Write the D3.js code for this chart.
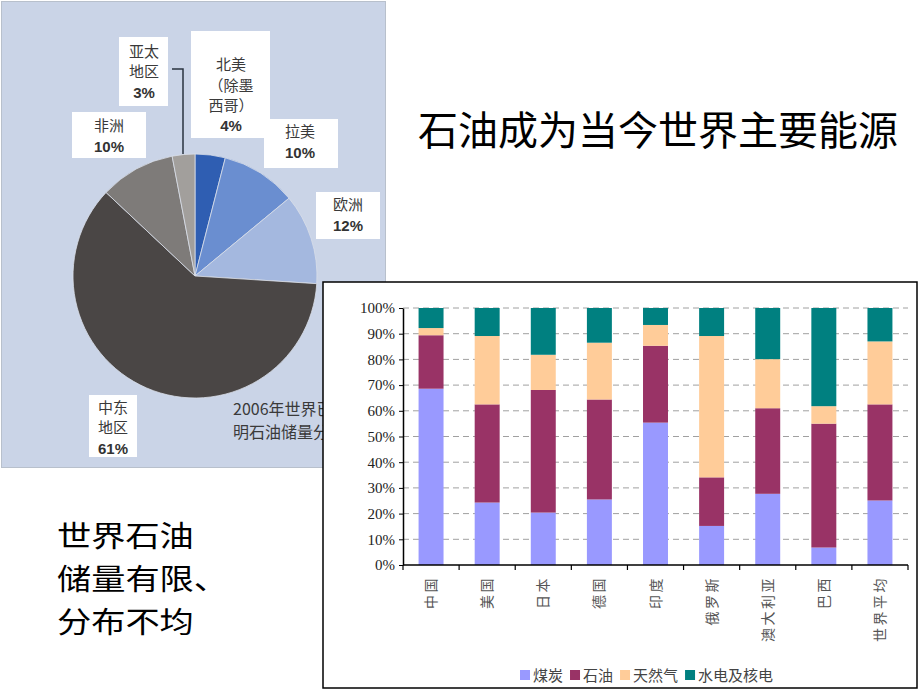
<!DOCTYPE html>
<html><head><meta charset="utf-8">
<script src="https://cdn.jsdelivr.net/npm/d3@7/dist/d3.min.js"></script>
<style>html,body{margin:0;padding:0;background:#fff;}svg{display:block;}</style>
</head><body>
<svg id="c" width="920" height="690"></svg>
<script>
// ---- Pie data ----
const regions = ["北美（除墨西哥）", "拉美", "欧洲", "中东地区", "非洲", "亚太地区"];
const shares = [4, 10, 12, 61, 10, 3];
const regionLabelLines = [["北美", "（除墨", "西哥）"], ["拉美"], ["欧洲"], ["中东", "地区"], ["非洲"], ["亚太", "地区"]];
const pieColors = ["#2f5eb2", "#6a8ed0", "#a4b8df", "#4a4645", "#7e7b79", "#a29f9c"];

// ---- Stacked bar data ----
const countries = ["中国", "美国", "日本", "德国", "印度", "俄罗斯", "澳大利亚", "巴西", "世界平均"];
const energyTypes = ["煤炭", "石油", "天然气", "水电及核电"];
const coal  = [68.6, 24.3, 20.4, 25.5, 55.4, 15.2, 27.7, 6.8, 25.1];
const oil   = [20.8, 38.2, 47.7, 38.9, 29.9, 18.9, 33.3, 48.2, 37.4];
const gas   = [2.8, 26.6, 13.7, 22.1, 8.1, 55.0, 19.1, 6.8, 24.5];
const hydro = [7.8, 10.9, 18.2, 13.5, 6.6, 10.9, 19.9, 38.2, 13.0];
const yTicks = [0, 10, 20, 30, 40, 50, 60, 70, 80, 90, 100];
const barColors = ["#9999ff", "#993366", "#ffcc99", "#008080"];

const svg = d3.select("#c");
svg.append("rect").attr("width", 920).attr("height", 690).attr("fill", "#fff");

// ================= Left panel: pie =================
svg.append("rect").attr("x", 1.5).attr("y", 1.5).attr("width", 384).attr("height", 466)
  .attr("fill", "#cad4e7").attr("stroke", "#b8c0cc").attr("stroke-width", 1);

const cx = 195, cy = 276, R = 122;
const pie = d3.pie().sort(null).value(d => d)(shares);
const arc = d3.arc().innerRadius(0).outerRadius(R);
const pg = svg.append("g").attr("transform", `translate(${cx},${cy})`);
pg.selectAll("path").data(pie).join("path")
  .attr("d", arc).attr("fill", (d, i) => pieColors[i])
  .attr("stroke", "#d9dee8").attr("stroke-width", 0.8);

// label boxes (layout)
const boxes = [
  {x: 191, y: 31, w: 79, h: 107, cx: 231, ys: [70, 91, 111], py: 131},
  {x: 264, y: 119, w: 74, h: 49, cx: 300, ys: [137], py: 158},
  {x: 316, y: 192, w: 64, h: 47, cx: 348, ys: [210], py: 231},
  {x: 89, y: 395, w: 48, h: 62, cx: 113, ys: [413, 433], py: 454},
  {x: 72, y: 112, w: 74, h: 46, cx: 109, ys: [131], py: 152},
  {x: 119, y: 37, w: 49, h: 69, cx: 144, ys: [57, 77], py: 98}
];
// leader line for 亚太
svg.append("path").attr("d", `M172,69 H183 V${cy - R}`).attr("fill", "none")
  .attr("stroke", "#2a3340").attr("stroke-width", 1.5);
boxes.forEach((b, i) => {
  svg.append("rect").attr("x", b.x).attr("y", b.y).attr("width", b.w).attr("height", b.h).attr("fill", "#fff");
  regionLabelLines[i].forEach((t, j) => {
    svg.append("text").attr("x", b.cx).attr("y", b.ys[j]).attr("text-anchor", "middle")
      .attr("font-family", "'Noto Sans CJK SC', sans-serif").attr("font-size", 15).attr("fill", "#3a3a3a").text(t);
  });
  svg.append("text").attr("x", b.cx).attr("y", b.py).attr("text-anchor", "middle")
    .attr("font-family", "'Liberation Sans', Arial, sans-serif").attr("font-weight", "bold")
    .attr("font-size", 15).attr("fill", "#333").text(shares[i] + "%");
});
// caption (partly hidden by chart panel)
svg.append("text").attr("x", 233).attr("y", 415).attr("font-family", "'Noto Sans CJK SC', sans-serif")
  .attr("font-size", 16).attr("fill", "#3a3a3a").text("2006年世界已探");
svg.append("text").attr("x", 233).attr("y", 438).attr("font-family", "'Noto Sans CJK SC', sans-serif")
  .attr("font-size", 16).attr("fill", "#3a3a3a").text("明石油储量分布");

// ================= Titles =================
svg.append("text").attr("x", 418).attr("y", 145).attr("font-family", "'Noto Sans CJK SC', sans-serif")
  .attr("font-size", 40).attr("fill", "#000").text("石油成为当今世界主要能源");
["世界石油", "储量有限、", "分布不均"].forEach((t, i) => {
  svg.append("text").attr("transform", `translate(57,${547 + i * 43}) scale(1.18,1)`)
    .attr("font-family", "'Noto Sans CJK SC', sans-serif")
    .attr("font-size", 29).attr("fill", "#000").text(t);
});

// ================= Right panel: stacked bars =================
svg.append("rect").attr("x", 323).attr("y", 282).attr("width", 594).attr("height", 406)
  .attr("fill", "#fff").attr("stroke", "#000").attr("stroke-width", 1.5);

const x0 = 403, x1 = 908, yTop = 308, yBot = 565;
const x = d3.scaleBand().domain(countries).range([x0, x1]).paddingInner(0.555).paddingOuter(0.2775);
const y = d3.scaleLinear().domain([0, 100]).range([yBot, yTop]);

// gridlines
svg.append("g").selectAll("line").data(yTicks.filter(v => v > 0)).join("line")
  .attr("x1", x0).attr("x2", x1).attr("y1", d => y(d)).attr("y2", d => y(d))
  .attr("stroke", "#a0a0a0").attr("stroke-width", 1).attr("stroke-dasharray", "6,4");

// stacked bars
const rows = countries.map((c, i) => ({country: c, "煤炭": coal[i], "石油": oil[i], "天然气": gas[i], "水电及核电": hydro[i]}));
const stack = d3.stack().keys(energyTypes)(rows);
svg.append("g").selectAll("g").data(stack).join("g")
  .attr("fill", (d, i) => barColors[i])
  .selectAll("rect").data(d => d).join("rect")
  .attr("x", d => x(d.data.country)).attr("width", x.bandwidth())
  .attr("y", d => y(d[1])).attr("height", d => y(d[0]) - y(d[1]));

// y axis
const yAxis = d3.axisLeft(y).tickValues(yTicks).tickFormat(d => d + "%").tickSize(4).tickSizeOuter(0);
const yg = svg.append("g").attr("transform", `translate(${x0},0)`).call(yAxis);
yg.select(".domain").attr("stroke", "#000").attr("stroke-width", 1.5);
yg.selectAll(".tick line").attr("stroke", "#000");
yg.selectAll("text").attr("font-family", "'Liberation Serif', 'Times New Roman', serif")
  .attr("font-size", 15).attr("fill", "#222").attr("x", -8);

// x axis
const xg = svg.append("g").attr("transform", `translate(0,${yBot})`);
xg.append("line").attr("x1", x0).attr("x2", x1).attr("stroke", "#000").attr("stroke-width", 1.5);
const bounds = d3.range(countries.length + 1).map(i => x0 + i * x.step());
xg.selectAll("line.tk").data(bounds).join("line").attr("class", "tk")
  .attr("x1", d => d).attr("x2", d => d).attr("y1", 0).attr("y2", 5).attr("stroke", "#000").attr("stroke-width", 1.2);
xg.selectAll("text").data(countries).join("text")
  .attr("transform", d => `translate(${x(d) + x.bandwidth() / 2},11) rotate(-90)`)
  .attr("text-anchor", "end").attr("dy", "0.36em")
  .attr("font-family", "'Noto Sans CJK SC', sans-serif").attr("font-size", 14)
  .attr("letter-spacing", "2.5px").attr("fill", "#555").text(d => d);

// legend
let lx = 520;
const ly = 675;
energyTypes.forEach((k, i) => {
  svg.append("rect").attr("x", lx).attr("y", ly - 5).attr("width", 10).attr("height", 10).attr("fill", barColors[i]);
  const t = svg.append("text").attr("x", lx + 13).attr("y", ly + 5.5)
    .attr("font-family", "'Noto Sans CJK SC', sans-serif").attr("font-size", 15).attr("fill", "#444").text(k);
  lx += 13 + t.node().getComputedTextLength() + 7;
});
</script>
</body></html>
